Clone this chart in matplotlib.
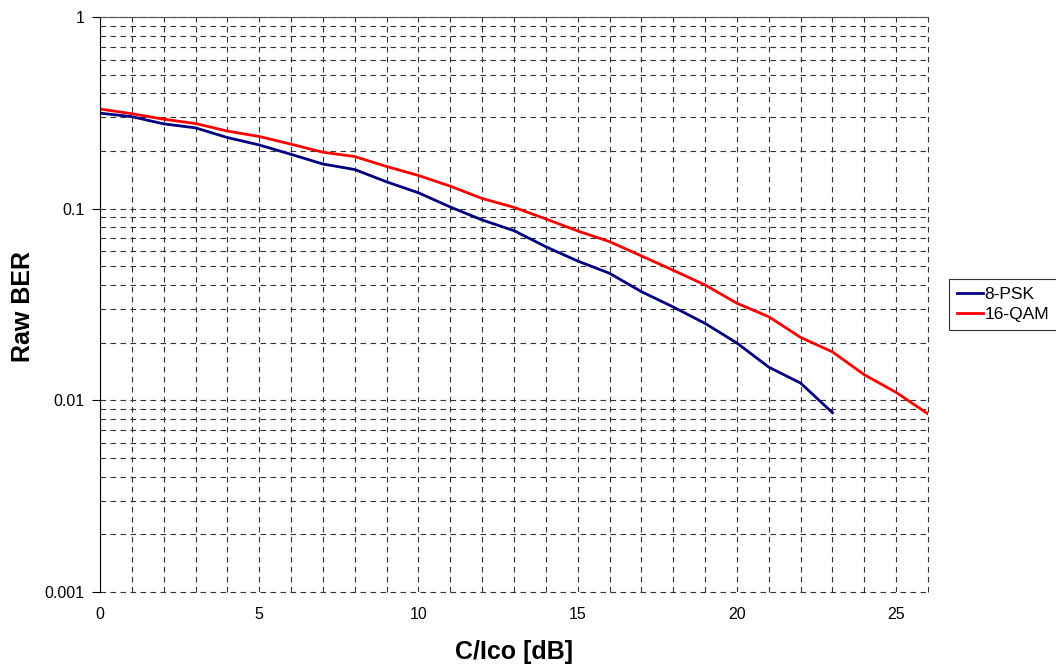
import matplotlib
matplotlib.use("Agg")
import matplotlib.pyplot as plt
from matplotlib.ticker import LogLocator, FixedLocator, NullFormatter

plt.rcParams['font.family'] = ['Liberation Sans', 'DejaVu Sans']

cir = list(range(0, 27))
psk8 = [0.315, 0.302, 0.277, 0.264, 0.235, 0.215, 0.192, 0.171, 0.160, 0.138,
        0.121, 0.102, 0.0873, 0.0768, 0.0633, 0.0533, 0.046, 0.0369, 0.0307,
        0.0252, 0.0199, 0.0149, 0.0123, 0.00862]
qam16 = [0.331, 0.313, 0.293, 0.278, 0.254, 0.238, 0.217, 0.197, 0.187, 0.166,
         0.149, 0.131, 0.113, 0.1016, 0.0884, 0.0765, 0.0673, 0.0567, 0.0477,
         0.040, 0.0321, 0.0273, 0.0213, 0.0179, 0.0136, 0.0110, 0.0085]

fig = plt.figure(figsize=(10.56, 6.71), dpi=100)
ax = fig.add_axes([100/1056, 79/671, 828/1056, 575/671])

ax.plot(cir[:len(psk8)], psk8, color='#000080', lw=2, label='8-PSK')
ax.plot(cir[:len(qam16)], qam16, color='#FF0000', lw=2, label='16-QAM')

ax.set_yscale('log')
ax.set_xlim(0, 26)
ax.set_ylim(0.001, 1)

ax.xaxis.set_major_locator(FixedLocator([0, 5, 10, 15, 20, 25]))
ax.xaxis.set_minor_locator(FixedLocator(range(0, 27)))
ax.yaxis.set_major_locator(FixedLocator([0.001, 0.01, 0.1, 1]))
ax.yaxis.set_major_formatter(matplotlib.ticker.FuncFormatter(lambda v, p: '%g' % v))
ax.yaxis.set_minor_locator(LogLocator(base=10, subs=range(2, 10)))
ax.yaxis.set_minor_formatter(NullFormatter())

grid_kw = dict(color='#333333', lw=0.8, linestyle=(0, (5, 4)))
ax.grid(True, which='both', axis='both', **grid_kw)
ax.set_axisbelow(True)

ax.tick_params(axis='x', which='both', length=0, pad=11, labelsize=11.5)
ax.tick_params(axis='y', which='major', direction='out', length=6, pad=5, labelsize=11.5)
ax.tick_params(axis='y', which='minor', length=0)

for side in ['bottom', 'right']:
    ax.spines[side].set_visible(False)
ax.spines['left'].set_color('black')
ax.spines['top'].set_color('#555555')

ax.set_xlabel('C/Ico [dB]', fontsize=18, fontweight='bold')
ax.set_ylabel('Raw BER', fontsize=18, fontweight='bold')
ax.xaxis.set_label_coords(0.5, -0.083)
ax.yaxis.set_label_coords(-0.078, 0.497)

leg = ax.legend(loc='center left', bbox_to_anchor=(1.025, 0.5), frameon=True,
                fancybox=False, edgecolor='black', fontsize=12.5,
                handlelength=1.5, handletextpad=0.1, borderpad=0.45,
                labelspacing=0.25, borderaxespad=0)
leg.get_frame().set_linewidth(0.8)

# keep the edge gridlines (x=26, y=0.001) from being half clipped
fig.canvas.draw()
for t in ax.xaxis.get_minor_ticks() + ax.yaxis.get_major_ticks():
    t.gridline.set_clip_on(False)

fig.savefig('out.png', dpi=100)
